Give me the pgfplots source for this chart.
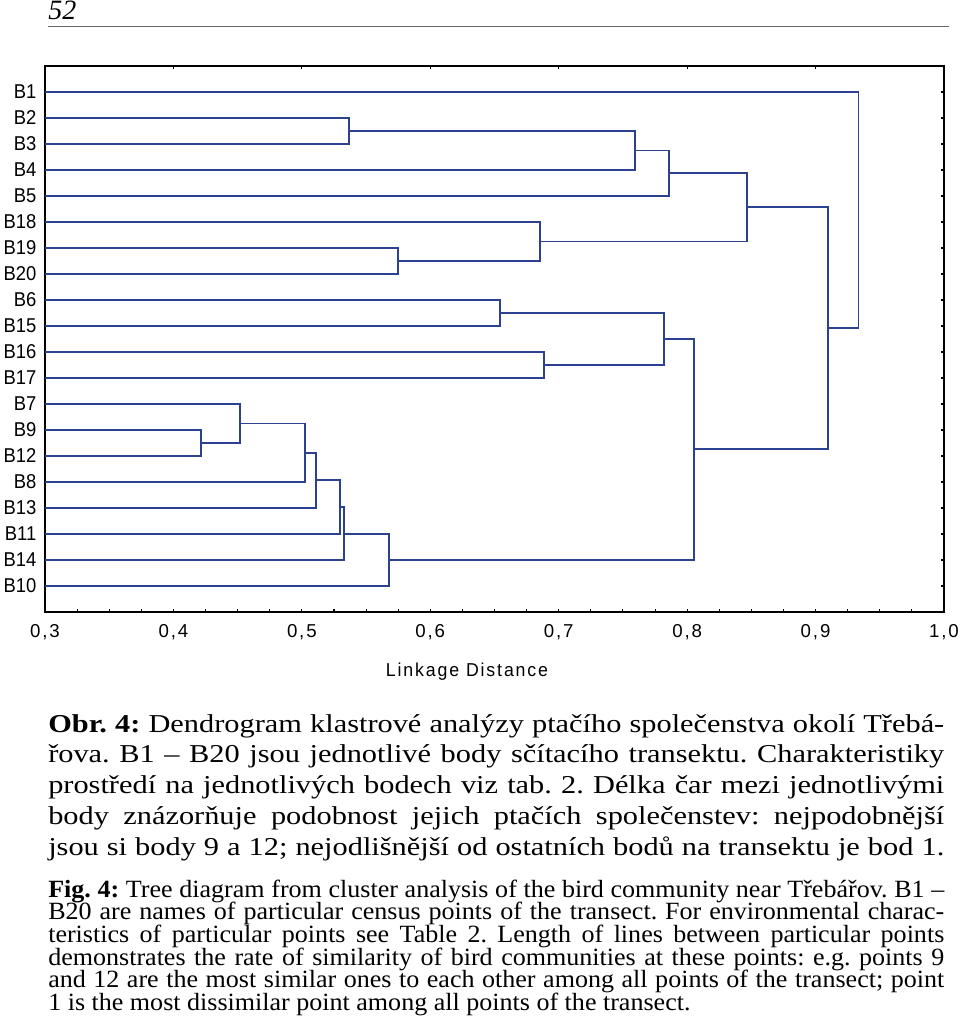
\documentclass[border=0pt]{standalone}
\usepackage{fontspec}
\usepackage{pgfplots}
\pgfplotsset{compat=1.18}
\setmainfont{Liberation Serif}
\newfontfamily\capA[FakeStretch=1.18]{Liberation Serif}
\newfontfamily\capB[FakeStretch=1.05]{Liberation Serif}
\newfontfamily\tickf[LetterSpace=10]{Liberation Sans}
\newfontfamily\labf[FakeStretch=0.92]{Liberation Sans}
\newfontfamily\axlab[LetterSpace=10, FakeStretch=0.95]{Liberation Sans}
\definecolor{dend}{RGB}{45,65,145}
\frenchspacing
\newcommand{\capAline}[2]{\node[anchor=base west, inner sep=0pt] at (36pt,-#1pt) {\frenchspacing\capA\fontsize{19.3pt}{22pt}\selectfont\makebox[672pt][s]{#2}};}
\newcommand{\capBline}[2]{\node[anchor=base west, inner sep=0pt] at (36pt,-#1pt) {\frenchspacing\capB\fontsize{18.6pt}{20pt}\selectfont\makebox[672pt][s]{#2}};}
\begin{document}
\begin{tikzpicture}
\path[use as bounding box] (0,0) rectangle (720pt,-764.25pt);
% page header
\node[anchor=base west, inner sep=0pt] at (36pt,-15pt) {\fontsize{21pt}{23pt}\selectfont\itshape 52};
\draw[line width=1pt, black!60] (36pt,-20pt) -- (711.75pt,-20pt);
\begin{axis}[
  at={(33.75pt,-459pt)}, anchor=south west,
  width=674.25pt, height=409.5pt, scale only axis,
  xmin=0.3, xmax=1.0, ymin=0, ymax=21, y dir=reverse,
  xtick={0.3,0.4,0.5,0.6,0.7,0.8,0.9,1.0},
  xticklabels={{0,3},{0,4},{0,5},{0,6},{0,7},{0,8},{0,9},{1,0}},
  minor x tick num=3,
  xtick pos=left,
  ytick={1,...,20},
  yticklabels={B1,B2,B3,B4,B5,B18,B19,B20,B6,B15,B16,B17,B7,B9,B12,B8,B13,B11,B14,B10},
  tick align=inside,
  major tick length=2.6pt, minor tick length=2.3pt,
  tick style={black, line width=0.8pt},
  axis line style={black, line width=1.1pt},
  xticklabel style={font=\tickf\fontsize{14pt}{16pt}\selectfont, yshift=-6pt},
  yticklabel style={font=\labf\fontsize{15pt}{17pt}\selectfont, xshift=-3pt},
  dl/.style={dend, solid, line width=1.4pt, mark=none},
  clip=false,
]
\addplot[dl] coordinates {(0.3,2)(0.537,2)(0.537,3)(0.3,3)};
\addplot[dl] coordinates {(0.537,2.5)(0.7595,2.5)(0.7595,4)(0.3,4)};
\addplot[dl] coordinates {(0.7595,3.25)(0.786,3.25)(0.786,5)(0.3,5)};
\addplot[dl] coordinates {(0.3,7)(0.575,7)(0.575,8)(0.3,8)};
\addplot[dl] coordinates {(0.3,6)(0.6855,6)(0.6855,7.5)(0.575,7.5)};
\addplot[dl] coordinates {(0.786,4.125)(0.8467,4.125)(0.8467,6.75)(0.6855,6.75)};
\addplot[dl] coordinates {(0.3,9)(0.6544,9)(0.6544,10)(0.3,10)};
\addplot[dl] coordinates {(0.3,11)(0.6886,11)(0.6886,12)(0.3,12)};
\addplot[dl] coordinates {(0.6544,9.5)(0.782,9.5)(0.782,11.5)(0.6886,11.5)};
\addplot[dl] coordinates {(0.3,14)(0.4215,14)(0.4215,15)(0.3,15)};
\addplot[dl] coordinates {(0.3,13)(0.4519,13)(0.4519,14.5)(0.4215,14.5)};
\addplot[dl] coordinates {(0.4519,13.75)(0.5027,13.75)(0.5027,16)(0.3,16)};
\addplot[dl] coordinates {(0.5027,14.875)(0.5108,14.875)(0.5108,17)(0.3,17)};
\addplot[dl] coordinates {(0.5108,15.9375)(0.530,15.9375)(0.530,18)(0.3,18)};
\addplot[dl] coordinates {(0.530,16.969)(0.5331,16.969)(0.5331,19)(0.3,19)};
\addplot[dl] coordinates {(0.5331,17.984)(0.5677,17.984)(0.5677,20)(0.3,20)};
\addplot[dl] coordinates {(0.782,10.5)(0.8055,10.5)(0.8055,18.992)(0.5677,18.992)};
\addplot[dl] coordinates {(0.8467,5.4375)(0.910,5.4375)(0.910,14.746)(0.8055,14.746)};
\addplot[dl] coordinates {(0.3,1)(0.9334,1)(0.9334,10.092)(0.910,10.092)};
\end{axis}
\begin{axis}[
  at={(33.75pt,-459pt)}, anchor=south west,
  width=674.25pt, height=409.5pt, scale only axis,
  xmin=0.3, xmax=1.0, ymin=0, ymax=21,
  xtick={0.3,0.4,0.5,0.6,0.7,0.8,0.9,1.0}, xticklabels={},
  xtick pos=right, ytick=\empty,
  tick align=inside, major tick length=2.6pt,
  tick style={black, line width=0.8pt},
  axis line style={draw=none},
]
\end{axis}
\node[anchor=base, inner sep=0pt] at (350.25pt,-507pt) {\axlab\fontsize{14pt}{16pt}\selectfont Linkage Distance};
% captions
\capAline{549}{\textbf{Obr. 4:} Dendrogram klastrové analýzy ptačího společenstva okolí Třebá-}
\capAline{572.06}{řova. B1 – B20 jsou jednotlivé body sčítacího transektu. Charakteristiky}
\capAline{595.13}{prostředí na jednotlivých bodech viz tab. 2. Délka čar mezi jednotlivými}
\capAline{618.19}{body znázorňuje podobnost jejich ptačích společenstev: nejpodobnější}
\capAline{641.25}{jsou si body 9 a 12; nejodlišnější od ostatních bodů na transektu je bod 1.}
\capBline{672.75}{\textbf{Fig. 4:} Tree diagram from cluster analysis of the bird community near Třebářov. B1 –}
\capBline{689.78}{B20 are names of particular census points of the transect. For environmental charac-}
\capBline{706.8}{teristics of particular points see Table 2. Length of lines between particular points}
\capBline{723.83}{demonstrates the rate of similarity of bird communities at these points: e.g. points 9}
\capBline{740.85}{and 12 are the most similar ones to each other among all points of the transect; point}
\node[anchor=base west, inner sep=0pt] at (36pt,-757.88pt) {\capB\fontsize{18.6pt}{20pt}\selectfont 1 is the most dissimilar point among all points of the transect.};
\end{tikzpicture}
\end{document}
